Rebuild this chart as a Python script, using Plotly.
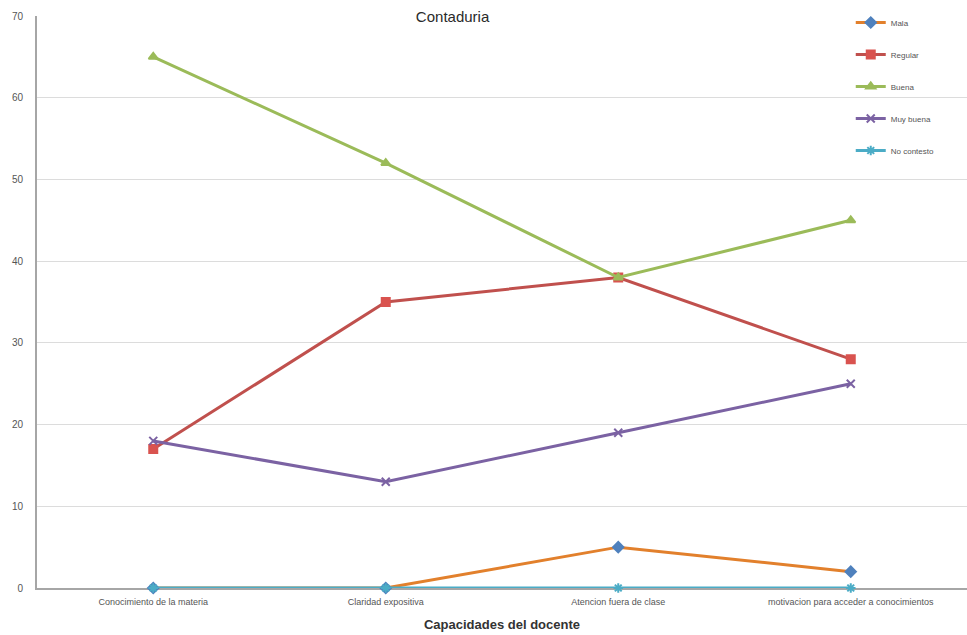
import plotly.graph_objects as go

categories = [
    "Conocimiento de la materia",
    "Claridad expositiva",
    "Atencion fuera de clase",
    "motivacion para acceder a conocimientos",
]
mala = [0, 0, 5, 2]
regular = [17, 35, 38, 28]
buena = [65, 52, 38, 45]
muy_buena = [18, 13, 19, 25]
no_contesto = [0, 0, 0, 0]

series = [
    ("Mala", mala, "#E2802C", "diamond", "#4F81BD", 8),
    ("Regular", regular, "#C0504D", "square", "#D9534F", 8),
    ("Buena", buena, "#9BBB59", "triangle-up", "#9BBB59", 8),
    ("Muy buena", muy_buena, "#7B62A3", "x-thin", "#7B62A3", 8),
    ("No contesto", no_contesto, "#4BACC6", "asterisk", "#4BACC6", 8),
]

fig = go.Figure()
for i, (name, vals, color, symbol, mcolor, msize) in enumerate(series):
    fig.add_trace(go.Scatter(
        x=categories, y=vals, name=name, mode="lines+markers",
        legendgroup=f"g{i}", cliponaxis=False,
        line=dict(color=color, width=3),
        marker=dict(symbol=symbol, size=msize, color=mcolor,
                    line=dict(color=mcolor, width=2)),
    ))

fig.update_layout(
    width=967, height=635,
    margin=dict(l=37, r=0, t=16, b=47),
    paper_bgcolor="white", plot_bgcolor="white",
    font=dict(family="Liberation Sans, Arial, sans-serif", color="#595959"),
    title=dict(text="Contaduria", x=0.468, xanchor="center", y=0.973,
               yanchor="middle", font=dict(size=15, color="#2a2a2a")),
    showlegend=True,
    legend=dict(x=0.875, y=1.014, xanchor="left", yanchor="top",
                bgcolor="rgba(0,0,0,0)", font=dict(size=8, color="#555555"),
                traceorder="grouped", tracegroupgap=13, itemwidth=30),
    xaxis=dict(
        showline=True, linecolor="#A6A6A6", linewidth=2, layer="below traces",
        showgrid=False, ticks="outside", ticklen=4, tickcolor="rgba(0,0,0,0)",
        tickfont=dict(size=9, color="#555555"),
        title=dict(text="<b>Capacidades del docente</b>",
                   font=dict(size=13, color="#333333"), standoff=14),
        range=[-0.5, 3.5],
    ),
    yaxis=dict(
        range=[0, 70], dtick=10, showline=True, linecolor="#A6A6A6",
        linewidth=2, gridcolor="#DCDCDC", gridwidth=1, zeroline=False,
        layer="below traces",
        tickfont=dict(size=10, color="#555555"),
        ticks="outside", ticklen=10, tickcolor="rgba(0,0,0,0)",
    ),
)

fig.write_html("out.html")
